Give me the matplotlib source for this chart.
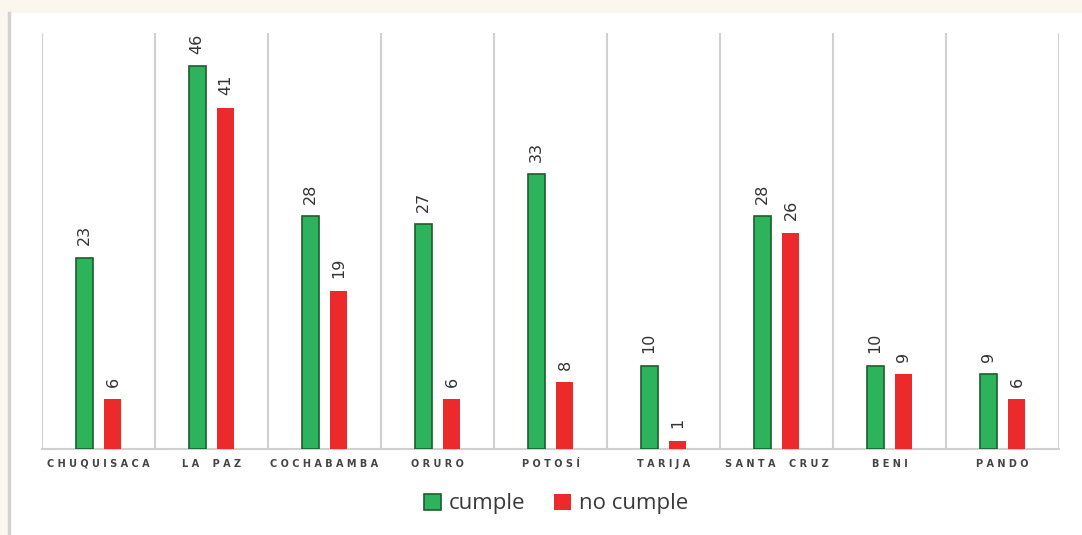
import matplotlib.pyplot as plt
import numpy as np
from matplotlib.patches import Rectangle

departamentos = ['CHUQUISACA', 'LA PAZ', 'COCHABAMBA', 'ORURO', 'POTOSÍ',
                 'TARIJA', 'SANTA CRUZ', 'BENI', 'PANDO']
cumple = [23, 46, 28, 27, 33, 10, 28, 10, 9]
no_cumple = [6, 41, 19, 6, 8, 1, 26, 9, 6]

verde = '#2cb35b'
rojo = '#ec2a2c'

#spaced-out tick labels like the original
etiquetas = [' '.join(d).replace('   ', '    ') for d in departamentos]

fig = plt.figure(figsize=(10.82, 5.35), dpi=100, facecolor='#fbf7ef')
#white card with grey left edge, behind the axes
fig.patches.append(Rectangle((8/1082, 0), 1, 1 - 13/535, transform=fig.transFigure,
                             facecolor='white', edgecolor='none', zorder=-2))
fig.lines.append(plt.Line2D([9/1082, 9/1082], [0, 1 - 13/535], transform=fig.transFigure,
                            color='#d2d2d2', lw=2.5, zorder=-1))

ax = fig.add_axes([42/1082, 1 - 449/535, (1059 - 42)/1082, (449 - 33)/535])
ax.patch.set_alpha(0)
x = np.arange(len(departamentos))
w = 0.15
off = 0.128
b1 = ax.bar(x - off, cumple, w, color=verde, edgecolor='#1d5e2e', linewidth=1.2,
            label='cumple', zorder=3)
b2 = ax.bar(x + off, no_cumple, w, color=rojo, edgecolor='none',
            label='no cumple', zorder=3)

for bars, vals in [(b1, cumple), (b2, no_cumple)]:
    for b, v in zip(bars, vals):
        ax.annotate(str(v), (b.get_x() + b.get_width()/2, b.get_height()),
                    xytext=(0, 9), textcoords='offset points', rotation=90,
                    ha='center', va='bottom', fontsize=11.5, color='#333333')

ax.set_xlim(-0.5, len(departamentos) - 0.5)
ax.set_ylim(0, 50)
ax.set_xticks(x)
ax.set_xticklabels(etiquetas, fontsize=7, fontweight='bold', color='#444444')
ax.set_xticks(np.arange(-0.5, len(departamentos)), minor=True)
ax.tick_params(axis='x', which='both', length=0, pad=7)
ax.set_yticks([])
ax.grid(axis='x', which='minor', color='#d0d0d0', lw=1.5, zorder=0)
for s in ['top', 'left', 'right']:
    ax.spines[s].set_visible(False)
ax.spines['bottom'].set_color('#d0d0d0')
ax.spines['bottom'].set_linewidth(1.5)

leg = fig.legend(handles=[b1, b2], loc='center', bbox_to_anchor=(556/1082, 1 - 504/535),
                 ncol=2, frameon=False, prop={'family': 'Open Sans', 'size': 16},
                 handlelength=0.75, handleheight=0.75, handletextpad=0.35,
                 columnspacing=1.3)
for t in leg.get_texts():
    t.set_color('#3a3a3a')
leg.legend_handles[0].set_edgecolor('#1d5e2e')

plt.savefig('out.png', dpi=100, facecolor=fig.get_facecolor())
